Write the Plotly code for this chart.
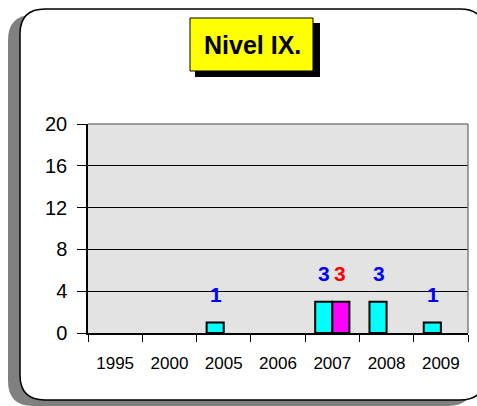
import plotly.graph_objs as go

# data
years = ["1995", "2000", "2005", "2006", "2007", "2008", "2009"]
cyan_vals = [0, 0, 1, 0, 3, 3, 1]
magenta_vals = [0, 0, 0, 0, 3, 0, 0]
title_text = "Nivel IX."

W, H = 477, 406
ML, MR, MT, MB = 88, 9, 124, 73
PW, PH = W - ML - MR, H - MT - MB


def fx(px):
    return (px - ML) / PW


def fy(py):
    return (H - MB - py) / PH


def rounded_path(x0, y0, x1, y1, r):
    pts = [
        ("M", [(x0 + r, y0)]), ("L", [(x1 - r, y0)]), ("Q", [(x1, y0), (x1, y0 + r)]),
        ("L", [(x1, y1 - r)]), ("Q", [(x1, y1), (x1 - r, y1)]),
        ("L", [(x0 + r, y1)]), ("Q", [(x0, y1), (x0, y1 - r)]),
        ("L", [(x0, y0 + r)]), ("Q", [(x0, y0), (x0 + r, y0)]),
    ]
    s = ""
    for cmd, ps in pts:
        s += cmd + " ".join(f"{fx(a):.5f},{fy(b):.5f}" for a, b in ps) + " "
    return s + "Z"


fig = go.Figure()

fig.add_trace(go.Bar(
    x=years, y=[v if v else None for v in cyan_vals],
    marker=dict(color="#00FFFF", line=dict(color="black", width=2)),
    name="A", showlegend=False, hoverinfo="skip"
))
fig.add_trace(go.Bar(
    x=years, y=[v if v else None for v in magenta_vals],
    marker=dict(color="#FF00FF", line=dict(color="black", width=2)),
    name="B", showlegend=False, hoverinfo="skip"
))

annotations = []
# value labels (x given as category index, since the years look numeric)
for i, v in enumerate(cyan_vals):
    if v:
        annotations.append(dict(x=i, y=v, xref="x", yref="y", text=f"<b>{v}</b>",
                                showarrow=False, yanchor="bottom", xshift=-8, yshift=15,
                                font=dict(size=21, color="#0000FF")))
for i, v in enumerate(magenta_vals):
    if v:
        annotations.append(dict(x=i, y=v, xref="x", yref="y", text=f"<b>{v}</b>",
                                showarrow=False, yanchor="bottom", xshift=8, yshift=15,
                                font=dict(size=21, color="#FF0000")))

# title box text
annotations.append(dict(x=fx(252), y=fy(45), xref="paper", yref="paper",
                        xanchor="center", yanchor="middle",
                        text=f"<b>{title_text}</b>", showarrow=False,
                        font=dict(size=25, color="black")))

shapes = [
    # shadow of the outer frame
    dict(type="path", xref="paper", yref="paper", layer="below",
         path=rounded_path(8, 15, 473, 406, 25), fillcolor="#808080", line=dict(width=0)),
    # outer frame
    dict(type="path", xref="paper", yref="paper", layer="below",
         path=rounded_path(20, 9, 485, 400, 25), fillcolor="white",
         line=dict(color="black", width=1.5)),
    # plot area background
    dict(type="rect", xref="paper", yref="paper", layer="below",
         x0=0, x1=1, y0=0, y1=1, fillcolor="#E3E3E3", line=dict(width=0)),
    # title box shadow + box
    dict(type="rect", xref="paper", yref="paper", layer="below",
         x0=fx(195), x1=fx(320), y0=fy(77), y1=fy(23), fillcolor="black", line=dict(width=0)),
    dict(type="rect", xref="paper", yref="paper", layer="below",
         x0=fx(190), x1=fx(313), y0=fy(71), y1=fy(18), fillcolor="#FFFF00",
         line=dict(color="black", width=1)),
    # gray top and right border of plot area
    dict(type="line", xref="paper", yref="paper", layer="above",
         x0=0, x1=1, y0=1, y1=1, line=dict(color="#808080", width=1.5)),
    dict(type="line", xref="paper", yref="paper", layer="above",
         x0=1, x1=1, y0=0, y1=1, line=dict(color="#808080", width=1.5)),
]

fig.update_layout(
    width=W, height=H,
    margin=dict(l=ML, r=MR, t=MT, b=MB, pad=0),
    paper_bgcolor="white",
    plot_bgcolor="rgba(0,0,0,0)",
    barmode="group", bargap=0.37, bargroupgap=0,
    font=dict(family="Arial, Liberation Sans, sans-serif", color="black"),
    shapes=shapes,
    annotations=annotations,
    showlegend=False,
    xaxis=dict(type="category", showgrid=False, showline=True, linecolor="black", linewidth=1.5,
               ticks="outside", tickson="boundaries", ticklen=7, tickcolor="black",
               tickfont=dict(size=17), ticklabelstandoff=14, fixedrange=True),
    yaxis=dict(range=[0, 20], tickvals=[0, 4, 8, 12, 16, 20], showgrid=True, gridcolor="black",
               gridwidth=1, zeroline=False, showline=True, linecolor="black", linewidth=1.5,
               ticks="outside", ticklen=9, tickcolor="black", tickfont=dict(size=20),
               ticklabelstandoff=6, fixedrange=True),
)

fig.write_html("out.html", config={"displayModeBar": False},
               post_script="document.body.style.margin='0';")
